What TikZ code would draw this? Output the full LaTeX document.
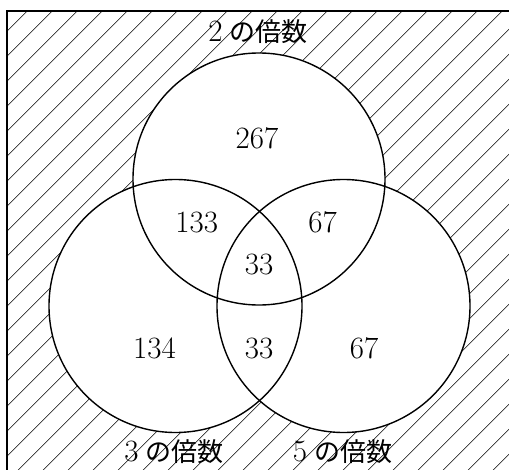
\documentclass[tikz,border=0pt]{standalone}
\usepackage{fontspec}
\newfontfamily\jp{Noto Sans CJK JP}
\begin{document}
\begin{tikzpicture}[x=1pt,y=-1pt,
  setcircle/.style={line width=1.4pt},
  hatch/.style={line width=0.6pt},
  num/.style={font=\fontsize{31}{34}\selectfont, inner sep=0pt},
  setlabel/.style={font=\fontsize{31}{34}\selectfont, inner sep=0pt}]
\useasboundingbox (0,0) rectangle (509,469);
\clip (0,0) rectangle (509,469);
% universe frame region
\coordinate (ul) at (7,11);
\coordinate (lr) at (530,490);
\begin{scope}
  \clip (ul) rectangle (lr);
  \foreach \k in {0,...,40} {
    \pgfmathsetmacro{\c}{13.3+25*\k}
    \draw[hatch] (\c,0) -- (\c-600,600);
  }
\end{scope}
% circles
\coordinate (A) at (259,179);
\coordinate (B) at (175.5,306);
\coordinate (C) at (343.5,306);
\fill[white] (A) circle (126);
\fill[white] (B) circle (126.5);
\fill[white] (C) circle (126.5);
\draw[setcircle] (A) circle (126);
\draw[setcircle] (B) circle (126.5);
\draw[setcircle] (C) circle (126.5);
\draw[line width=1.4pt] (ul) rectangle (lr);
% labels
\node[setlabel] (l2) at (258,32) {2\hspace{7pt}{\fontsize{26}{30}\selectfont\jp の倍数}};
\node[setlabel] (l3) at (174,452) {3\hspace{7pt}{\fontsize{26}{30}\selectfont\jp の倍数}};
\node[setlabel] (l5) at (342.5,452) {5\hspace{7pt}{\fontsize{26}{30}\selectfont\jp の倍数}};
\node[num] (n267) at (257,138) {267};
\node[num] (n133) at (196.7,222.5) {133};
\node[num] (n67a) at (322.5,222) {67};
\node[num] (n33a) at (259,264) {33};
\node[num] (n134) at (154.5,348) {134};
\node[num] (n33b) at (259,348) {33};
\node[num] (n67b) at (364,348) {67};
\end{tikzpicture}
\end{document}
